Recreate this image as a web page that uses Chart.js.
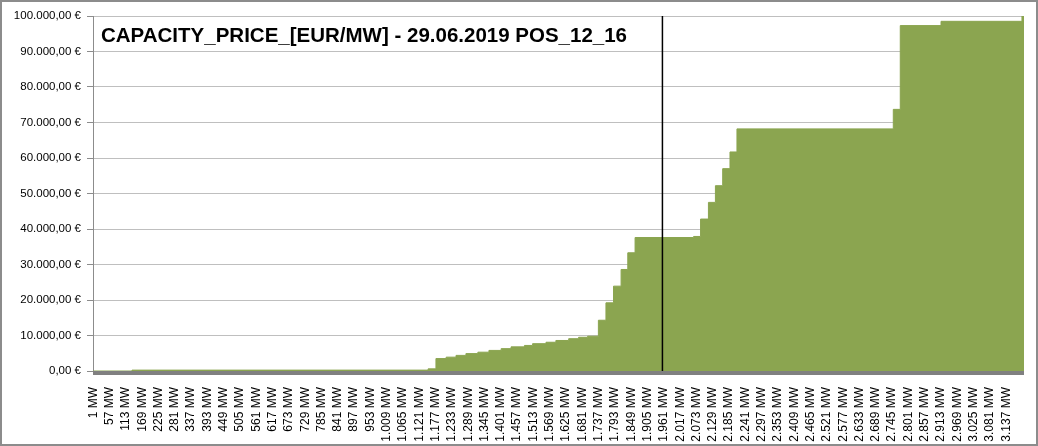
<!DOCTYPE html>
<html>
<head>
<meta charset="utf-8">
<script src="https://cdn.jsdelivr.net/npm/chart.js@4/dist/chart.umd.min.js"></script>
<style>
  html, body { margin: 0; padding: 0; background: #fff; }
  #wrap { width: 1038px; height: 446px; position: relative; }
</style>
</head>
<body>
<div id="wrap"><canvas id="meritChart" width="1038" height="446"></canvas></div>
<script>
// Merit order of the capacity offers (step start in MW, price in EUR/MW)
const stepStartMW = [1, 134, 1151, 1178, 1213, 1247, 1281, 1322, 1360, 1402, 1436, 1482, 1510, 1556, 1590, 1634, 1668, 1699,
  1736, 1762, 1788, 1814, 1837, 1862, 2063, 2087, 2114, 2138, 2163, 2188, 2212, 2749, 2773, 2913, 3191];
const stepPrice = [0, 250, 600, 3500, 3900, 4400, 4900, 5300, 5800, 6300, 6800, 7200, 7700, 8100, 8600, 9100, 9500, 9800,
  14300, 19200, 23900, 28600, 33300, 37600, 37900, 42800, 47500, 52200, 57000, 61700, 68200, 73700, 97300, 98500, 100000];
const totalMW = 3198;   // end of the last offer
const markerMW = 1956;  // demanded quantity (vertical line)

// x axis labels (every 56 MW)
const xTickMW = [1, 57, 113, 169, 225, 281, 337, 393, 449, 505, 561, 617, 673, 729, 785, 841, 897, 953, 1009, 1065, 1121,
  1177, 1233, 1289, 1345, 1401, 1457, 1513, 1569, 1625, 1681, 1737, 1793, 1849, 1905, 1961, 2017, 2073, 2129, 2185, 2241,
  2297, 2353, 2409, 2465, 2521, 2577, 2633, 2689, 2745, 2801, 2857, 2913, 2969, 3025, 3081, 3137];
const yTicks = [0, 10000, 20000, 30000, 40000, 50000, 60000, 70000, 80000, 90000, 100000];

const chartTitle = 'CAPACITY_PRICE_[EUR/MW] - 29.06.2019 POS_12_16';

// German number formatting: 1.234,00
function groupDE(intStr) {
  return intStr.replace(/\B(?=(\d{3})+(?!\d))/g, '.');
}
function fmtEuro(v) {
  const parts = Number(v).toFixed(2).split('.');
  return groupDE(parts[0]) + ',' + parts[1] + ' €';
}
function fmtMW(v) {
  return groupDE(String(v)) + ' MW';
}

// build the step points, plus a final point closing the last offer
const areaPoints = stepStartMW.map((x, i) => ({ x: x, y: stepPrice[i] }));
areaPoints.push({ x: totalMW, y: stepPrice[stepPrice.length - 1] });

const markerPoints = [{ x: markerMW, y: 0 }, { x: markerMW, y: 100000 }];

const font = '"Liberation Sans", Arial, sans-serif';

// title sits inside the plot area, over the grid
const titlePlugin = {
  id: 'innerTitle',
  afterDraw(chart) {
    const c = chart.ctx;
    c.save();
    c.font = 'bold 20.5px ' + font;
    c.fillStyle = '#000';
    c.textBaseline = 'middle';
    c.fillText(chartTitle, chart.chartArea.left + 8, 36);
    c.restore();
  }
};

// thick grey floor under the x axis and the outer frame
const framePlugin = {
  id: 'frame',
  afterDatasetsDraw(chart) {
    const c = chart.ctx;
    const a = chart.chartArea;
    c.save();
    c.fillStyle = '#808080';
    c.fillRect(a.left, a.bottom, a.right - a.left, 4);
    c.restore();
  },
  afterDraw(chart) {
    const c = chart.ctx;
    c.save();
    c.strokeStyle = '#8c8c8c';
    c.lineWidth = 2;
    c.strokeRect(1, 1, chart.width - 2, chart.height - 2);
    c.restore();
  }
};

const ctx = document.getElementById('meritChart').getContext('2d');

const meritChart = new Chart(ctx, {
  type: 'line',
  data: {
    datasets: [
      {
        data: markerPoints,
        borderColor: '#000',
        borderWidth: 1.5,
        pointRadius: 0,
        fill: false,
        order: 0
      },
      {
        data: areaPoints,
        stepped: 'before',
        borderColor: '#8ba550',
        borderWidth: 1,
        backgroundColor: '#8ba550',
        fill: 'origin',
        pointRadius: 0,
        order: 1
      }
    ]
  },
  options: {
    responsive: false,
    animation: false,
    layout: {
      padding: { left: 0, right: 14, top: 16, bottom: 0 }
    },
    plugins: {
      legend: { display: false },
      tooltip: { enabled: false }
    },
    scales: {
      x: {
        type: 'linear',
        min: 0,
        max: totalMW,
        afterBuildTicks(scale) {
          scale.ticks = xTickMW.map(v => ({ value: v }));
        },
        afterFit(scale) {
          scale.height = 75;
        },
        grid: { display: false },
        border: { display: false },
        ticks: {
          autoSkip: false,
          maxRotation: 90,
          minRotation: 90,
          padding: 8,
          color: '#000',
          font: { family: font, size: 12 },
          callback: v => fmtMW(v)
        }
      },
      y: {
        min: 0,
        max: 100000,
        afterBuildTicks(scale) {
          scale.ticks = yTicks.map(v => ({ value: v }));
        },
        afterFit(scale) {
          scale.width = 93;
        },
        grid: {
          color: '#bfbfbf',
          lineWidth: 1,
          tickLength: 6,
          tickColor: '#8c8c8c'
        },
        border: { display: true, color: '#8c8c8c', width: 1 },
        ticks: {
          padding: 6,
          color: '#000',
          font: { family: font, size: 11.5 },
          callback: v => fmtEuro(v)
        }
      }
    }
  },
  plugins: [titlePlugin, framePlugin]
});
</script>
</body>
</html>
